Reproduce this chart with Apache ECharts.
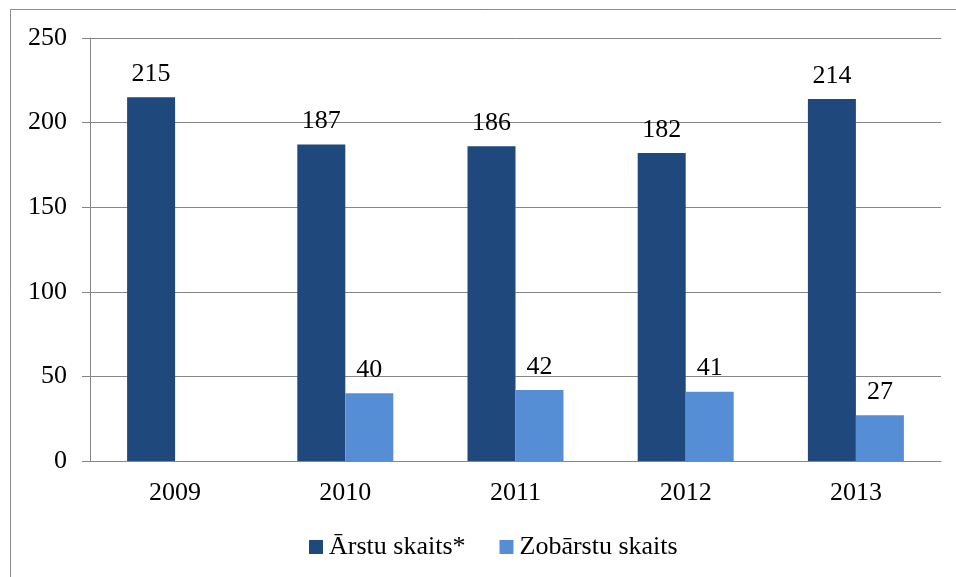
<!DOCTYPE html>
<html><head><meta charset="utf-8">
<script src="https://cdn.jsdelivr.net/npm/echarts@6/dist/echarts.min.js"></script>
<style>html,body{margin:0;padding:0;background:#fff}#c{width:956px;height:577px}</style>
</head><body><div id="c"></div>
<script>
const categories = ['2009','2010','2011','2012','2013'];
const arstuSkaits = [215, 187, 186, 182, 214];
const zobarstuSkaits = [null, 40, 42, 41, 27];
const seriesNames = ['Ārstu skaits*', 'Zobārstu skaits'];
const yTicks = [0, 50, 100, 150, 200, 250];

const FONT = '"Liberation Serif", "Times New Roman", serif';
const FS = 26;
const chart = echarts.init(document.getElementById('c'), null, {renderer:'canvas'});
chart.setOption({
  animation: false,
  backgroundColor: '#fff',
  textStyle: {fontFamily: FONT},
  graphic: [{
    type: 'rect', shape: {x: 10.5, y: 9.5, width: 1000, height: 700},
    style: {fill: 'none', stroke: '#8c8c8c', lineWidth: 1}, z: -1
  }],
  grid: {left: 90, right: 15, top: 38, bottom: 116, containLabel: false},
  legend: {
    bottom: 17, left: 309, itemWidth: 14, itemHeight: 14, itemGap: 34,
    icon: 'rect', padding: 0,
    textStyle: {fontFamily: FONT, fontSize: FS, color: '#000', padding: [0, 0, 0, 1]},
    data: seriesNames
  },
  xAxis: {
    type: 'category', data: categories,
    axisLine: {lineStyle: {color: '#868686', width: 1}},
    axisTick: {length: 8, lineStyle: {color: '#868686'}},
    axisLabel: {fontFamily: FONT, fontSize: FS, color: '#000', margin: 19}
  },
  yAxis: {
    type: 'value', min: yTicks[0], max: yTicks[yTicks.length-1], interval: 50,
    axisLine: {show: true, lineStyle: {color: '#868686', width: 1}},
    axisTick: {show: true, length: 8, lineStyle: {color: '#868686'}},
    splitLine: {lineStyle: {color: '#868686', width: 1}},
    axisLabel: {fontFamily: FONT, fontSize: FS, color: '#000', margin: 23}
  },
  series: [
    {name: seriesNames[0], type: 'bar', data: arstuSkaits, barWidth: 48, barGap: '0%',
     itemStyle: {color: '#1F497D'},
     label: {show: true, position: 'top', distance: 10, fontFamily: FONT, fontSize: FS, color: '#000'}},
    {name: seriesNames[1], type: 'bar', data: zobarstuSkaits, barWidth: 48, barGap: '0%',
     itemStyle: {color: '#558ED5'},
     label: {show: true, position: 'top', distance: 10, fontFamily: FONT, fontSize: FS, color: '#000'}}
  ]
});
</script></body></html>
